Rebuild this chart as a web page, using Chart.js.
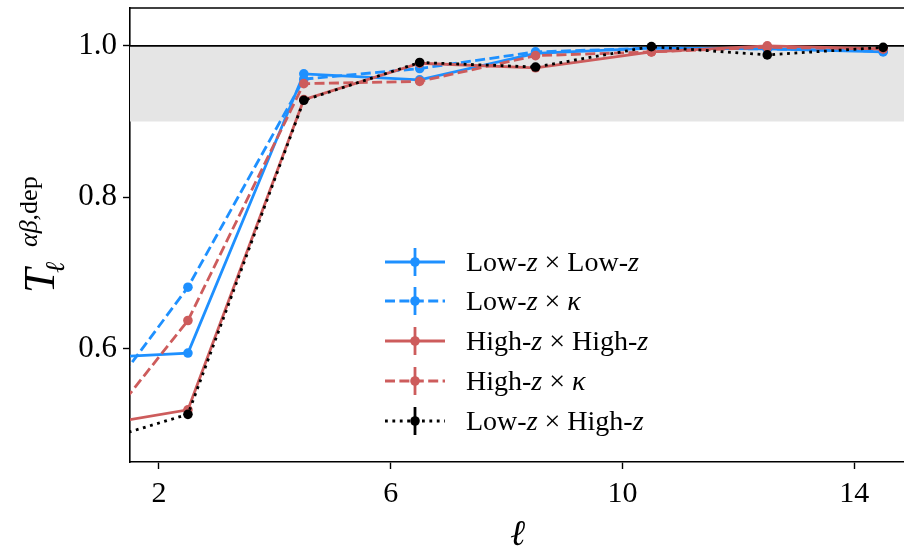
<!DOCTYPE html>
<html>
<head>
<meta charset="utf-8">
<script src="https://cdn.jsdelivr.net/npm/chart.js@4/dist/chart.umd.min.js"></script>
<style>
  html, body { margin: 0; padding: 0; background: #fff; }
  #wrap { width: 904px; height: 549px; }
</style>
</head>
<body>
<div id="wrap"><canvas id="chart" width="904" height="549"></canvas></div>
<script>
// multipole bins (first bin sits left of the visible range)
const ells = [0.5, 2.5, 4.5, 6.5, 8.5, 10.5, 12.5, 14.5];

const lowLow   = [0.586, 0.594, 0.963, 0.955, 0.990, 0.997, 0.996, 0.992];
const lowKappa = [0.475, 0.681, 0.956, 0.970, 0.992, 0.997, 0.996, 0.993];
const highHigh = [0.493, 0.519, 0.929, 0.977, 0.971, 0.992, 1.000, 0.996];
const highKappa = [0.444, 0.637, 0.950, 0.953, 0.987, 0.992, 0.998, 0.996];
const lowHigh  = [0.467, 0.513, 0.928, 0.978, 0.972, 0.999, 0.988, 0.998];

const seriesLabels = ['Low-z × Low-z', 'Low-z × κ', 'High-z × High-z', 'High-z × κ', 'Low-z × High-z'];

const xTicks = [2, 6, 10, 14];
const yTicks = [0.6, 0.8, 1.0];
const band = [0.9, 1.0];

const BLUE = '#1E90FF';
const RED = '#CD5C5C';
const SERIF = '"Liberation Serif", "DejaVu Serif", serif';

function toPoints(vals) {
    return ells.map((l, i) => ({ x: l, y: vals[i] }));
}

function makeSet(label, vals, color, dash, order) {
    return {
        label: label,
        data: toPoints(vals),
        borderColor: color,
        backgroundColor: color,
        borderWidth: 2.8,
        borderDash: dash,
        pointRadius: 4.8,
        pointHoverRadius: 4.8,
        pointBorderWidth: 0,
        pointBackgroundColor: color,
        tension: 0,
        fill: false,
        order: order
    };
}

// draw text with z and kappa in italic
function drawMath(ctx, text, x, y, size) {
    let cx = x;
    for (const ch of text) {
        const ital = (ch === 'z' || ch === 'κ');
        ctx.font = (ital ? 'italic ' : '') + size + 'px ' + SERIF;
        ctx.fillText(ch, cx, y);
        cx += ctx.measureText(ch).width;
    }
}

// grey band + reference line at 1
const bandPlugin = {
    id: 'band',
    beforeDatasetsDraw(chart) {
        const { ctx, chartArea, scales } = chart;
        const y = scales.y;
        const top = y.getPixelForValue(band[1]);
        const bot = y.getPixelForValue(band[0]);
        ctx.save();
        ctx.fillStyle = '#e5e5e5';
        ctx.fillRect(chartArea.left, top, chartArea.right - chartArea.left, bot - top);
        ctx.strokeStyle = '#000';
        ctx.lineWidth = 1.6;
        ctx.beginPath();
        ctx.moveTo(chartArea.left, top);
        ctx.lineTo(chartArea.right, top);
        ctx.stroke();
        ctx.restore();
    }
};

// frame top, axis titles, legend
const decoPlugin = {
    id: 'deco',
    afterDraw(chart) {
        const { ctx, chartArea } = chart;
        ctx.save();
        ctx.strokeStyle = '#000';
        ctx.lineWidth = 1.6;
        ctx.beginPath();
        ctx.moveTo(chartArea.left, chartArea.top);
        ctx.lineTo(chartArea.right, chartArea.top);
        ctx.stroke();

        ctx.fillStyle = '#000';
        ctx.textBaseline = 'alphabetic';
        ctx.textAlign = 'left';

        // x title
        ctx.font = 'italic 36px ' + SERIF;
        ctx.fillText('ℓ', 510, 545);

        // y title, rotated
        ctx.save();
        ctx.translate(54, 293);
        ctx.rotate(-Math.PI / 2);
        ctx.font = 'italic 44px ' + SERIF;
        ctx.fillText('T', 0, 0);
        ctx.font = 'italic 27px ' + SERIF;
        ctx.fillText('ℓ', 20, 10);
        ctx.font = 'italic 26px ' + SERIF;
        ctx.fillText('αβ', 46, -17);
        const w = ctx.measureText('αβ').width;
        ctx.font = '26px ' + SERIF;
        ctx.fillText(',dep', 46 + w, -17);
        ctx.restore();

        // legend
        const rows = [262, 301, 341, 381, 421];
        chart.data.datasets.forEach((ds, i) => {
            const y = rows[i];
            ctx.strokeStyle = ds.borderColor;
            ctx.lineWidth = 2.8;
            ctx.setLineDash(ds.borderDash || []);
            ctx.beginPath();
            ctx.moveTo(385, y);
            ctx.lineTo(445, y);
            ctx.stroke();
            ctx.setLineDash([]);
            ctx.beginPath();
            ctx.moveTo(415, y - 14);
            ctx.lineTo(415, y + 14);
            ctx.stroke();
            ctx.fillStyle = ds.borderColor;
            ctx.beginPath();
            ctx.arc(415, y, 4.8, 0, Math.PI * 2);
            ctx.fill();
            ctx.fillStyle = '#000';
            drawMath(ctx, ds.label, 466, y + 9, 28);
        });
        ctx.restore();
    }
};

const ctx = document.getElementById('chart');
new Chart(ctx, {
    type: 'line',
    data: {
        datasets: [
            makeSet(seriesLabels[0], lowLow, BLUE, [], 4),
            makeSet(seriesLabels[1], lowKappa, BLUE, [10, 4.4], 3),
            makeSet(seriesLabels[2], highHigh, RED, [], 2),
            makeSet(seriesLabels[3], highKappa, RED, [10, 4.4], 1),
            makeSet(seriesLabels[4], lowHigh, '#000', [2.8, 4.6], 0)
        ]
    },
    options: {
        responsive: false,
        animation: false,
        layout: { autoPadding: false, padding: { top: 8, right: 0, left: 0, bottom: 0 } },
        plugins: {
            legend: { display: false },
            tooltip: { enabled: false }
        },
        scales: {
            x: {
                type: 'linear',
                min: 1.5,
                max: 14.86,
                afterBuildTicks: function(scale) {
                    scale.ticks = xTicks.map(v => ({ value: v }));
                },
                afterFit: function(scale) {
                    scale.height = 87;
                    scale.paddingLeft = 0;
                    scale.paddingRight = 0;
                },
                ticks: {
                    color: '#000',
                    padding: 7,
                    font: { family: SERIF, size: 30 },
                    callback: v => String(v)
                },
                grid: {
                    drawOnChartArea: false,
                    drawTicks: true,
                    tickLength: 7,
                    tickWidth: 1.4,
                    tickColor: '#000'
                },
                border: { display: true, color: '#000', width: 1.6 }
            },
            y: {
                min: 0.45,
                max: 1.05,
                afterBuildTicks: function(scale) {
                    scale.ticks = yTicks.map(v => ({ value: v }));
                },
                afterFit: function(scale) {
                    scale.width = 130;
                    scale.paddingTop = 0;
                    scale.paddingBottom = 0;
                },
                ticks: {
                    color: '#000',
                    padding: 6,
                    font: { family: SERIF, size: 31 },
                    callback: v => v.toFixed(1)
                },
                grid: {
                    drawOnChartArea: false,
                    drawTicks: true,
                    tickLength: 7,
                    tickWidth: 1.4,
                    tickColor: '#000'
                },
                border: { display: true, color: '#000', width: 1.6 }
            }
        }
    },
    plugins: [bandPlugin, decoPlugin]
});
</script>
</body>
</html>
